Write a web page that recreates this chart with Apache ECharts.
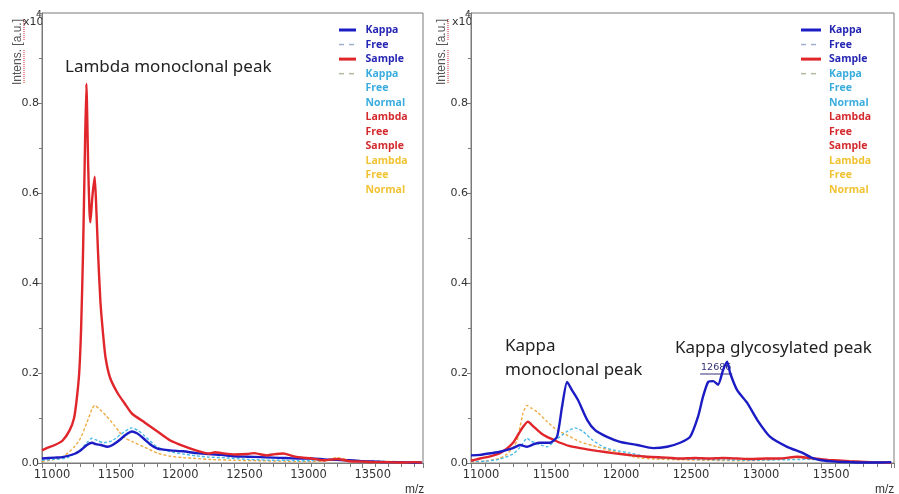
<!DOCTYPE html>
<html>
<head>
<meta charset="utf-8">
<script src="https://cdn.jsdelivr.net/npm/echarts@6/dist/echarts.min.js"></script>
<style>
  html, body { margin: 0; padding: 0; background: #ffffff; }
  #chart { width: 899px; height: 494px; }
</style>
</head>
<body>
<div id="chart"></div>
<script>
// ---- Left spectrum: Lambda free light chain sample vs normal ----
const leftRedMz  = [11000,11037,11100,11161,11216,11250,11270,11290,11305,11320,11333,11346,11360,11370,11377,11392,11411,11424,11436,11455,11475,11495,11530,11590,11650,11700,11800,11900,12000,12100,12200,12300,12350,12400,12500,12600,12650,12750,12800,12880,12950,13000,13100,13200,13300,13400,13500,13600,13700,13800,13900,13960];
const leftRedInt = [0.028,0.033,0.040,0.050,0.073,0.100,0.140,0.200,0.300,0.470,0.670,0.843,0.660,0.560,0.535,0.590,0.636,0.560,0.473,0.360,0.290,0.235,0.190,0.155,0.130,0.110,0.090,0.070,0.050,0.038,0.028,0.021,0.024,0.022,0.019,0.020,0.022,0.017,0.019,0.021,0.016,0.013,0.010,0.006,0.009,0.004,0.003,0.002,0.002,0.001,0.002,0.001];

const leftBlueMz  = [11000,11100,11160,11250,11300,11350,11390,11420,11460,11510,11550,11600,11650,11700,11740,11790,11850,11900,12000,12100,12200,12300,12400,12500,12600,12700,12800,12900,13000,13100,13200,13300,13400,13500,13600,13700,13800,13900,13960];
const leftBlueInt = [0.010,0.012,0.013,0.020,0.028,0.040,0.045,0.042,0.040,0.036,0.040,0.050,0.062,0.070,0.066,0.055,0.040,0.032,0.028,0.026,0.022,0.020,0.018,0.015,0.014,0.013,0.012,0.011,0.010,0.010,0.008,0.007,0.006,0.004,0.003,0.002,0.002,0.001,0.001];

const leftOrangeMz  = [11000,11100,11160,11250,11300,11350,11390,11410,11440,11500,11560,11600,11650,11700,11800,11900,12000,12100,12200,12300,12500,12700,12900,13000,13200,13300,13400,13600,13800,13960];
const leftOrangeInt = [0.003,0.008,0.013,0.035,0.055,0.090,0.120,0.128,0.122,0.105,0.085,0.070,0.055,0.048,0.035,0.022,0.015,0.012,0.010,0.008,0.006,0.005,0.004,0.003,0.004,0.012,0.007,0.004,0.003,0.002];

const leftCyanMz  = [11000,11100,11200,11300,11350,11390,11430,11480,11550,11620,11700,11750,11800,11900,12000,12100,12200,12300,12400,12500,12600,12700,12800,12900,13000,13100,13200,13300,13400,13500,13600,13700,13800,13960];
const leftCyanInt = [0.006,0.008,0.012,0.030,0.045,0.055,0.050,0.045,0.050,0.065,0.078,0.072,0.060,0.035,0.025,0.020,0.016,0.013,0.012,0.010,0.008,0.007,0.006,0.006,0.005,0.005,0.006,0.007,0.006,0.005,0.004,0.003,0.002,0.002];

// ---- Right spectrum: Kappa free light chain sample vs normal ----
const rightBlueMz  = [11000,11064,11150,11207,11300,11350,11400,11450,11493,11564,11614,11650,11686,11721,11764,11829,11886,11971,12064,12186,12300,12400,12493,12564,12621,12657,12693,12730,12764,12800,12829,12850,12900,12971,13043,13136,13257,13371,13430,13500,13600,13700,13800,13900,14000];
const rightBlueInt = [0.017,0.018,0.022,0.025,0.033,0.040,0.036,0.042,0.045,0.045,0.058,0.125,0.180,0.162,0.140,0.096,0.073,0.058,0.047,0.040,0.033,0.036,0.045,0.058,0.103,0.148,0.180,0.182,0.174,0.207,0.225,0.200,0.162,0.134,0.096,0.058,0.036,0.022,0.012,0.006,0.003,0.002,0.001,0.001,0.002];

const rightRedMz  = [11000,11064,11150,11207,11260,11300,11340,11371,11407,11430,11457,11500,11543,11600,11636,11700,11779,11900,12014,12150,12257,12400,12493,12600,12700,12800,12900,13000,13100,13200,13329,13450,13550,13700,13850,14000];
const rightRedInt = [0.005,0.010,0.016,0.022,0.033,0.045,0.065,0.080,0.092,0.086,0.078,0.066,0.058,0.050,0.045,0.038,0.033,0.027,0.022,0.017,0.014,0.012,0.010,0.011,0.010,0.011,0.010,0.009,0.010,0.010,0.014,0.010,0.007,0.004,0.002,0.001];

const rightOrangeMz  = [11000,11100,11200,11250,11300,11329,11350,11371,11400,11430,11471,11543,11614,11686,11779,11900,12064,12186,12300,12500,12700,12900,13100,13300,13400,13600,13800,14000];
const rightOrangeInt = [0.002,0.004,0.010,0.018,0.035,0.050,0.080,0.110,0.128,0.122,0.114,0.092,0.073,0.062,0.047,0.036,0.022,0.012,0.009,0.007,0.006,0.005,0.006,0.012,0.010,0.005,0.003,0.002];

const rightCyanMz  = [11000,11100,11200,11300,11350,11400,11430,11457,11500,11543,11600,11686,11743,11800,11871,11950,12014,12136,12257,12400,12600,12800,13000,13200,13400,13600,13800,14000];
const rightCyanInt = [0.003,0.004,0.008,0.020,0.035,0.055,0.048,0.045,0.040,0.036,0.050,0.070,0.078,0.070,0.050,0.035,0.029,0.022,0.014,0.010,0.008,0.007,0.006,0.007,0.008,0.005,0.003,0.002];

// Axis settings (intensity in units of 10^4)
const xMin = 11000;
const xMaxLeft = 13970;
const xMaxRight = 14020;
const xStep = 500;
const yMin = 0;
const yMax = 1;
const yStep = 0.2;

// Legend words and colours (three words per entry)
const legendWords = ['Kappa','Free','Sample','Kappa','Free','Normal','Lambda','Free','Sample','Lambda','Free','Normal'];
const legendWordColors = ['#2626b4','#2626b4','#2626b4','#3aacde','#3aacde','#3aacde','#d42a2e','#d42a2e','#d42a2e','#f1c232','#f1c232','#f1c232'];
const legendIconColors = ['#1c1cc4','#9fb0cc','#e0262b','#aebb9c'];
const legendIconDashed = [false, true, false, true];

// Peak annotation on the right spectrum
const peakMz = 12686;
const peakLabel = '12686';

const BLUE = '#1c1cc4', RED = '#e0262b', ORANGE = '#f0ac45', CYAN = '#4cbbe8';

const chart = echarts.init(document.getElementById('chart'));

function pairs(xs, ys) { return xs.map((x, i) => [x, ys[i]]); }

function line(name, gi, xs, ys, color, dashed, width, z) {
  return {
    name, type: 'line', xAxisIndex: gi, yAxisIndex: gi,
    data: pairs(xs, ys), showSymbol: false, symbol: 'none', smooth: 0.2,
    z, silent: true,
    lineStyle: { color, width, type: dashed ? [3, 2] : 'solid' }
  };
}

const axisColor = '#7a7a7a';
const labelFont = 'DejaVu Sans, Verdana, sans-serif';

function xAxis(gi, max) {
  return {
    type: 'value', gridIndex: gi, min: xMin, max, interval: xStep,
    axisLine: { show: true, lineStyle: { color: axisColor, width: 1 } },
    axisTick: { show: true, length: 5, lineStyle: { color: axisColor } },
    minorTick: { show: true, splitNumber: 5, length: 4, lineStyle: { color: axisColor } },
    splitLine: { show: false },
    axisLabel: {
      color: '#333', fontFamily: labelFont, fontSize: 11.5, margin: 6,
      padding: [0, 0, 0, 20],
      formatter: v => (v % xStep === 0 && v <= 13500) ? String(v) : ''
    }
  };
}

function yAxis(gi) {
  return {
    type: 'value', gridIndex: gi, min: yMin, max: yMax, interval: yStep,
    axisLine: { show: true, lineStyle: { color: axisColor, width: 1 } },
    axisTick: { show: true, length: 4, lineStyle: { color: axisColor } },
    minorTick: { show: true, splitNumber: 2, length: 3, lineStyle: { color: axisColor } },
    splitLine: { show: false },
    axisLabel: {
      color: '#333', fontFamily: labelFont, fontSize: 11, margin: 3,
      formatter: v => (v >= yMax - 1e-9) ? '' : v.toFixed(1)
    }
  };
}

const grids = [
  { left: 42, top: 13, width: 381, height: 450 },
  { left: 471, top: 13, width: 423, height: 450 }
];

const series = [
  line('Lambda Free Normal', 0, leftOrangeMz, leftOrangeInt, ORANGE, true, 1.4, 2),
  line('Kappa Free Normal', 0, leftCyanMz, leftCyanInt, CYAN, true, 1.4, 3),
  line('Kappa Free Sample', 0, leftBlueMz, leftBlueInt, BLUE, false, 2.4, 4),
  line('Lambda Free Sample', 0, leftRedMz, leftRedInt, RED, false, 2.4, 5),
  line('Lambda Free Normal', 1, rightOrangeMz, rightOrangeInt, ORANGE, true, 1.4, 2),
  line('Kappa Free Normal', 1, rightCyanMz, rightCyanInt, CYAN, true, 1.4, 3),
  line('Lambda Free Sample', 1, rightRedMz, rightRedInt, RED, false, 2.4, 4),
  line('Kappa Free Sample', 1, rightBlueMz, rightBlueInt, BLUE, false, 2.4, 5)
];

// Peak label marker on the Kappa sample trace
series[7].markPoint = {
  silent: true,
  symbol: 'rect', symbolSize: [32, 1], symbolOffset: [9, 0],
  itemStyle: { color: '#33337a' },
  label: {
    show: true, position: 'top', distance: 1, color: '#33337a',
    fontFamily: labelFont, fontSize: 9.5, formatter: peakLabel
  },
  data: [{ coord: [peakMz, 0.198] }]
};

// Decorative / text elements
const graphics = [];

function panelDecor(axisX, titleX, underlineX, mzX) {
  // y-axis title
  graphics.push({
    type: 'text', x: titleX, y: 52, rotation: Math.PI / 2,
    style: { text: 'Intens. [a.u.]', fill: '#555', font: '12px "Liberation Sans", Arial, sans-serif', align: 'center', verticalAlign: 'middle' }
  });
  // spell-check squiggles under the title words
  graphics.push({ type: 'line', shape: { x1: underlineX, y1: 50, x2: underlineX, y2: 84 }, style: { stroke: '#e04848', lineWidth: 1.2, lineDash: [1, 1] } });
  graphics.push({ type: 'line', shape: { x1: underlineX, y1: 19, x2: underlineX, y2: 41 }, style: { stroke: '#e04848', lineWidth: 1.2, lineDash: [1, 1] } });
  // exponent at top of the y axis
  graphics.push({ type: 'text', x: axisX - 19, y: 17, style: { text: 'x10', fill: '#333', font: '11px "DejaVu Sans", Verdana, sans-serif' } });
  graphics.push({ type: 'text', x: axisX - 6, y: 10, style: { text: '4', fill: '#333', font: '9px "DejaVu Sans", Verdana, sans-serif' } });
  // x-axis unit
  graphics.push({ type: 'text', x: mzX, y: 484, style: { text: 'm/z', fill: '#333', font: '12px "Liberation Sans", Arial, sans-serif' } });
}
panelDecor(42, 17.5, 24, 405);
panelDecor(471, 442, 448, 875);

function legendBlock(iconX, iconW, textX) {
  legendWords.forEach((w, i) => {
    const cy = 30 + i * 14.55;
    graphics.push({
      type: 'text', x: textX, y: cy,
      style: { text: w, fill: legendWordColors[i], font: 'bold 10.5px "Open Sans", "Noto Sans", sans-serif', verticalAlign: 'middle' }
    });
    if (i < legendIconColors.length) {
      graphics.push({
        type: 'line', shape: { x1: iconX, y1: cy, x2: iconX + iconW, y2: cy },
        style: {
          stroke: legendIconColors[i], lineWidth: legendIconDashed[i] ? 1.5 : 3,
          lineDash: legendIconDashed[i] ? [5, 5] : null
        }
      });
    }
  });
}
legendBlock(339, 17, 365.5);
legendBlock(801, 20, 829);

// Annotation texts
const annFont = '17px "Noto Sans", "Open Sans", sans-serif';
graphics.push({ type: 'text', x: 65, y: 67, style: { text: 'Lambda monoclonal peak', fill: '#222', font: annFont, verticalAlign: 'middle' } });
graphics.push({ type: 'text', x: 505, y: 346, style: { text: 'Kappa', fill: '#222', font: annFont, verticalAlign: 'middle' } });
graphics.push({ type: 'text', x: 505, y: 370, style: { text: 'monoclonal peak', fill: '#222', font: annFont, verticalAlign: 'middle' } });
graphics.push({ type: 'text', x: 675, y: 348, style: { text: 'Kappa glycosylated peak', fill: '#222', font: annFont, verticalAlign: 'middle' } });

chart.setOption({
  animation: false,
  backgroundColor: '#ffffff',
  grid: grids.map(g => Object.assign({ show: true, borderColor: axisColor, borderWidth: 1, backgroundColor: 'transparent' }, g)),
  xAxis: [xAxis(0, xMaxLeft), xAxis(1, xMaxRight)],
  yAxis: [yAxis(0), yAxis(1)],
  series,
  graphic: graphics
});
</script>
</body>
</html>
